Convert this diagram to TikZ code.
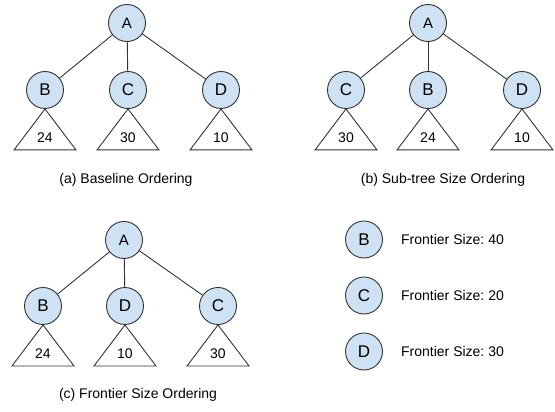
\documentclass[tikz,border=0pt]{standalone}
\usepackage{fontspec}
\setmainfont{Liberation Sans}
\usetikzlibrary{calc, positioning}
\definecolor{nodeBlue}{HTML}{CFE2F3}
\definecolor{lineGray}{gray}{0.2}

\tikzset{
    vert/.style={circle, draw=lineGray, line width=0.9pt, fill=nodeBlue,
        minimum size=37pt, inner sep=0pt, font=\fontsize{17}{17}\selectfont},
    root/.style={vert, font=\fontsize{15}{15}\selectfont},
    edge/.style={draw=lineGray, line width=0.9pt},
    num/.style={inner sep=0pt, font=\fontsize{14}{14}\selectfont},
    caption/.style={inner sep=0pt, font=\fontsize{14}{14}\selectfont},
}

\begin{document}
\frenchspacing
\begin{tikzpicture}[x=1pt, y=-1pt]
    \useasboundingbox (0,0) rectangle (555,412);

    % (a) Baseline ordering
    \node[root] (aA) at (127,23) {A};
    \node[vert] (aB) at (45,90) {B};
    \node[vert] (aC) at (128,90) {C};
    \node[vert] (aD) at (221,90) {D};
    \node[caption] (capA) at (126,180) {(a) Baseline Ordering};

    % (b) Sub-tree size ordering
    \node[root] (bA) at (428,23) {A};
    \node[vert] (bC) at (346,90) {C};
    \node[vert] (bB) at (428,90) {B};
    \node[vert] (bD) at (522,90) {D};
    \node[caption] (capB) at (443,180) {(b) Sub-tree Size Ordering};

    % (c) Frontier size ordering
    \node[root] (cA) at (124,240) {A};
    \node[vert] (cB) at (43,306) {B};
    \node[vert] (cD) at (125,306) {D};
    \node[vert] (cC) at (218,306) {C};
    \node[caption] (capC) at (138,395) {(c) Frontier Size Ordering};

    % Edges
    \foreach \p/\c in {aA/aB, aA/aC, aA/aD, bA/bC, bA/bB, bA/bD, cA/cB, cA/cD, cA/cC}
        \draw[edge] (\p) -- (\c);

    % Sub-trees
    \foreach \c/\n in {aB/24, aC/30, aD/10, bC/30, bB/24, bD/10, cB/24, cD/10, cC/30} {
        \draw[edge, line join=miter] (\c.south) -- ++(-31,41) -- ++(62,0) -- cycle;
        \node[num] (\c-n) at ($(\c.south)+(0,29)$) {\n};
    }

    % Frontier sizes
    \foreach \l/\s [count=\i] in {B/40, C/20, D/30} {
        \node[vert] (k\l) at (364,{183.5+56*\i}) {\l};
        \node[caption, right=18pt of k\l] (k\l-txt) {Frontier Size: \s};
    }
\end{tikzpicture}
\end{document}
